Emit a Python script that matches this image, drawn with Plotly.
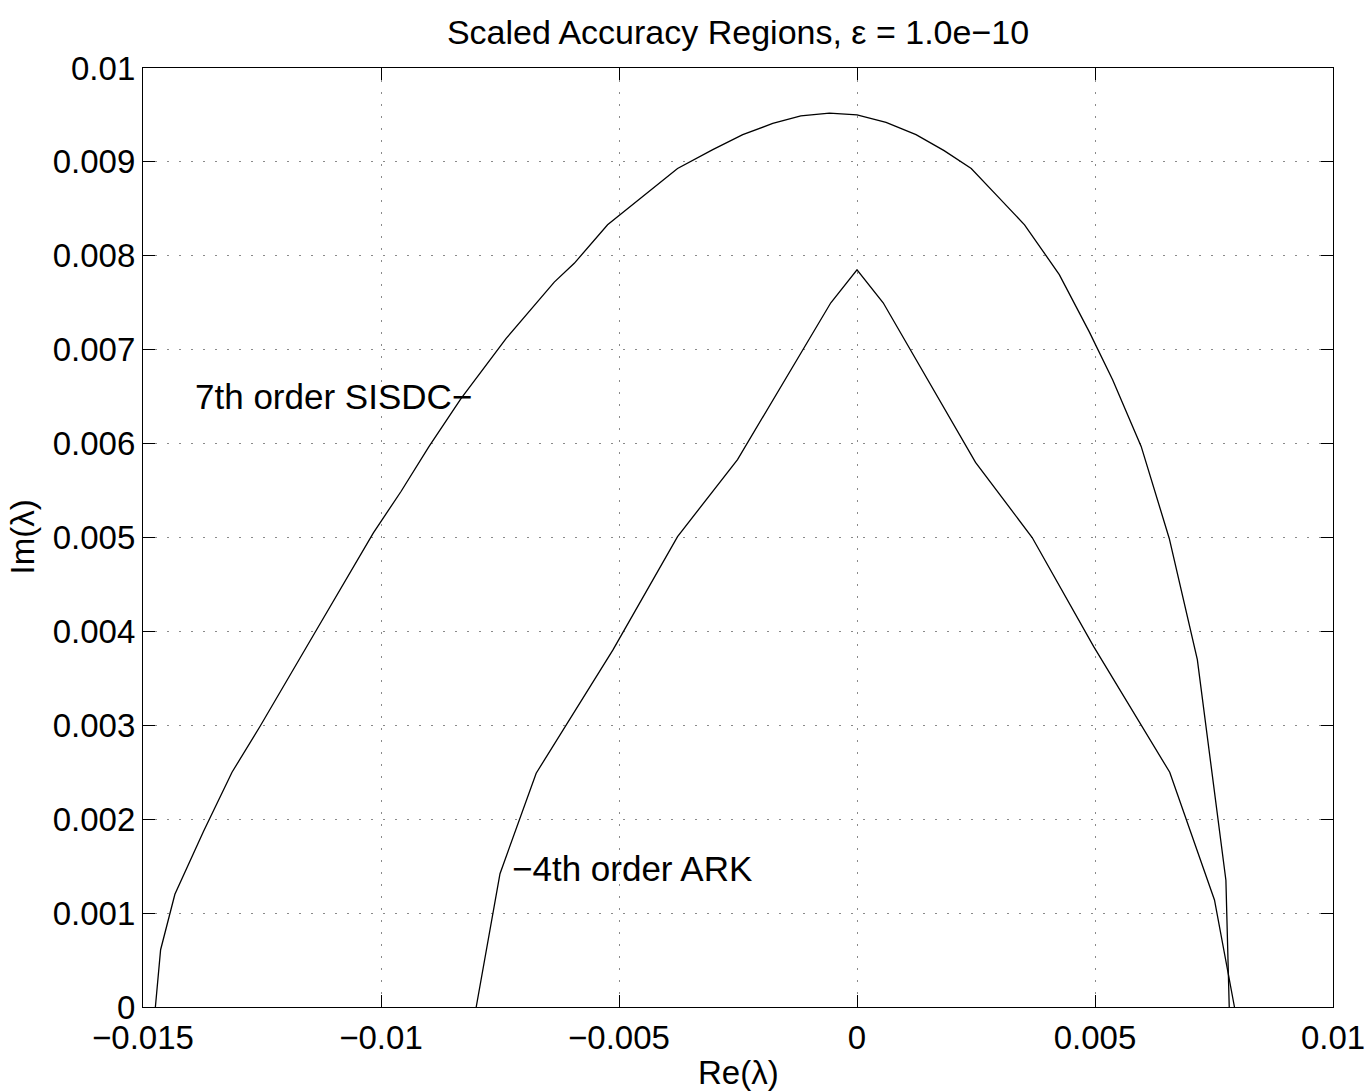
import plotly.graph_objects as go

# 7th order SISDC accuracy region boundary (outer curve)
sisdc_re = [-0.01474, -0.01463, -0.01433, -0.01373, -0.01313, -0.01254, -0.01135, -0.01016,
            -0.00958, -0.00899, -0.00832, -0.00737, -0.00636, -0.00594, -0.00524, -0.00377,
            -0.00303, -0.00240, -0.00177, -0.00118, -0.00058, 0.0, 0.00061, 0.00124, 0.00183,
            0.00240, 0.00296, 0.00352, 0.00425, 0.00488, 0.00537, 0.00597, 0.00656, 0.00715,
            0.00775, 0.00782]
sisdc_im = [0.0, 0.00061, 0.00120, 0.00187, 0.00250, 0.00299, 0.00402, 0.00505,
            0.00549, 0.00597, 0.00648, 0.00712, 0.00772, 0.00792, 0.00833, 0.00893,
            0.00913, 0.00929, 0.00941, 0.00949, 0.00952, 0.00950, 0.00942, 0.00929, 0.00912,
            0.00893, 0.00863, 0.00833, 0.00780, 0.00719, 0.00668, 0.00597, 0.00499, 0.00370,
            0.00135, 0.0]

# 4th order ARK accuracy region boundary (inner curve)
ark_re = [-0.00800, -0.00750, -0.00674, -0.00513, -0.00377, -0.00251, -0.00055, 0.0,
          0.00055, 0.00249, 0.00368, 0.00497, 0.00657, 0.00751, 0.00793]
ark_im = [0.0, 0.00142, 0.00249, 0.00380, 0.00501, 0.00583, 0.00750, 0.00785,
          0.00750, 0.00580, 0.00500, 0.00384, 0.00250, 0.00114, 0.0]

x_ticks = [-0.015, -0.01, -0.005, 0, 0.005, 0.01]
x_tick_text = ["\u22120.015", "\u22120.01", "\u22120.005", "0", "0.005", "0.01"]
y_ticks = [0, 0.001, 0.002, 0.003, 0.004, 0.005, 0.006, 0.007, 0.008, 0.009, 0.01]
y_tick_text = ["0", "0.001", "0.002", "0.003", "0.004", "0.005", "0.006", "0.007",
               "0.008", "0.009", "0.01"]

FONT = "Liberation Sans, Arial, Helvetica, sans-serif"
FS = 33

fig = go.Figure()
for xs, ys in [(sisdc_re, sisdc_im), (ark_re, ark_im)]:
    fig.add_trace(go.Scatter(x=xs, y=ys, mode="lines",
                             line=dict(color="black", width=1.3),
                             showlegend=False, hoverinfo="skip"))

axis_common = dict(
    showline=True, linecolor="black", linewidth=1.3, mirror="allticks",
    ticks="inside", ticklen=12, tickwidth=1.3, tickcolor="black",
    showgrid=True, gridcolor="#8a8a8a", gridwidth=1, griddash="2px,10px",
    zeroline=False, automargin=False,
    tickfont=dict(family=FONT, size=FS, color="black"),
)

fig.update_xaxes(range=[-0.015, 0.01], tickvals=x_ticks, ticktext=x_tick_text,
                 ticklabelstandoff=1, **axis_common)
fig.update_yaxes(range=[0, 0.01], tickvals=y_ticks, ticktext=y_tick_text, **axis_common)

fig.update_layout(
    width=1367, height=1092,
    margin=dict(l=143, r=34, t=68, b=85, autoexpand=False),
    paper_bgcolor="white", plot_bgcolor="white",
    font=dict(family=FONT, size=FS, color="black"),
    title=dict(text="Scaled Accuracy Regions, \u03b5 = 1.0e\u221210", x=0.5, xanchor="center",
               xref="paper", y=1 - 32 / 1092, yanchor="middle",
               font=dict(family=FONT, size=34, color="black")),
    annotations=[
        dict(text="Re(\u03bb)", xref="paper", yref="paper", x=0.5, y=-65 / 939,
             xanchor="center", yanchor="middle", showarrow=False,
             font=dict(family=FONT, size=FS)),
        dict(text="Im(\u03bb)", xref="paper", yref="paper", x=-121 / 1190, y=0.5,
             xanchor="center", yanchor="middle", showarrow=False, textangle=-90,
             font=dict(family=FONT, size=FS)),
        dict(text="7th order SISDC\u2212", xref="x", yref="y", x=-0.00805, y=0.0065,
             xanchor="right", yanchor="middle", showarrow=False,
             font=dict(family=FONT, size=35)),
        dict(text="\u22124th order ARK", xref="x", yref="y", x=-0.00728, y=0.00148,
             xanchor="left", yanchor="middle", showarrow=False,
             font=dict(family=FONT, size=35)),
    ],
)

fig.write_html("out.html")
